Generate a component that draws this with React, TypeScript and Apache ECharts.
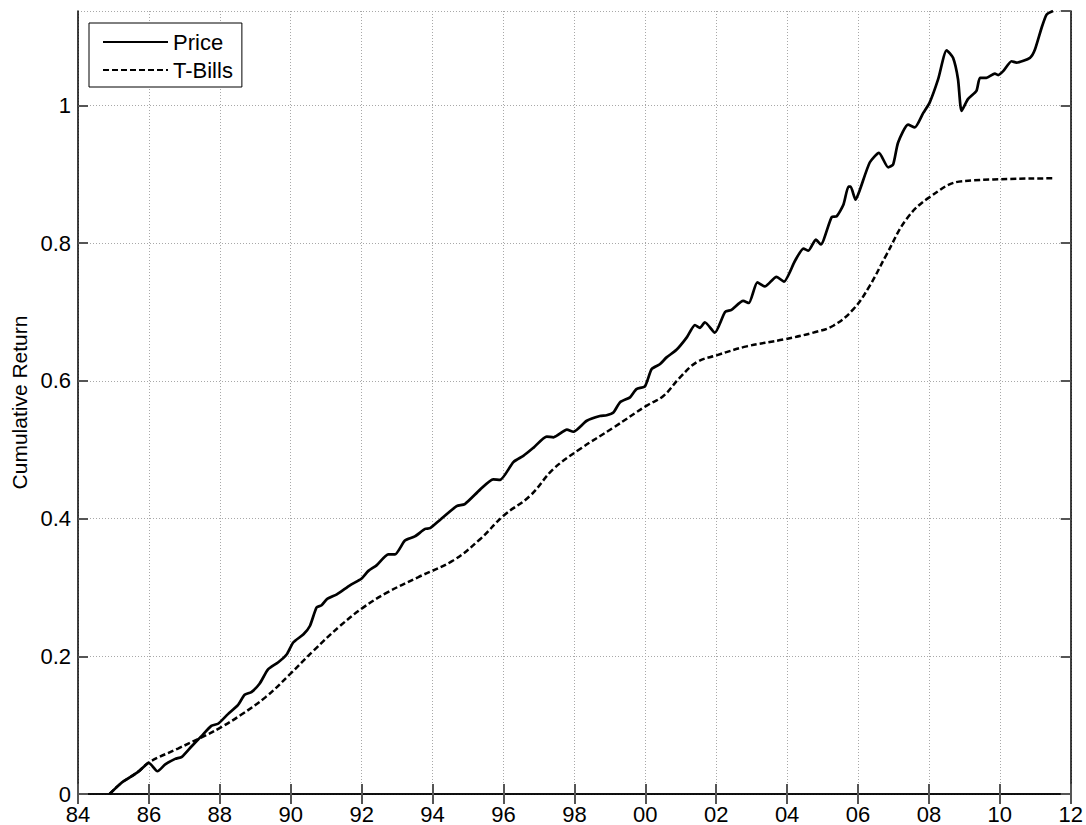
import React, { useEffect, useRef } from "react";
import * as echarts from "echarts";

// Cumulative return paths, x in calendar years
const priceYears = [
  1984.89, 1985.22, 1985.46, 1985.74, 1986.0, 1986.24, 1986.46, 1986.74, 1986.93,
  1987.2, 1987.48, 1987.76, 1987.95, 1988.23, 1988.51, 1988.7, 1988.89, 1989.12,
  1989.36, 1989.64, 1989.89, 1990.07, 1990.36, 1990.54, 1990.73, 1990.87, 1991.02,
  1991.3, 1991.67, 1992.0, 1992.19, 1992.42, 1992.75, 1992.94, 1993.22, 1993.5,
  1993.79, 1993.93, 1994.21, 1994.68, 1994.91, 1995.34, 1995.71, 1995.9, 1996.28,
  1996.56, 1996.85, 1997.22, 1997.41, 1997.79, 1997.97, 1998.35, 1998.72, 1998.91,
  1999.1, 1999.29, 1999.57, 1999.75, 1999.99, 2000.18, 2000.41, 2000.6, 2000.88,
  2001.17, 2001.4, 2001.54, 2001.68, 2001.96, 2002.25, 2002.43, 2002.76, 2002.92,
  2003.16, 2003.37, 2003.7, 2003.91, 2004.22, 2004.46, 2004.6, 2004.81, 2004.95,
  2005.26, 2005.4, 2005.59, 2005.73, 2005.79, 2005.93, 2006.05, 2006.33, 2006.59,
  2006.85, 2006.99, 2007.13, 2007.41, 2007.6, 2007.84, 2008.02, 2008.26, 2008.5,
  2008.68, 2008.82, 2008.92, 2009.1, 2009.34, 2009.44, 2009.62, 2009.86, 2009.95,
  2010.1, 2010.33, 2010.47, 2010.85, 2010.99, 2011.18, 2011.32, 2011.5,
];
const priceValues = [
  0, 0.016, 0.024, 0.034, 0.045, 0.033, 0.043, 0.051, 0.054,
  0.069, 0.084, 0.099, 0.102, 0.116, 0.129, 0.144, 0.148, 0.16,
  0.181, 0.191, 0.203, 0.22, 0.232, 0.244, 0.271, 0.274, 0.283,
  0.29, 0.303, 0.313, 0.324, 0.332, 0.348, 0.348, 0.368, 0.374,
  0.385, 0.386, 0.398, 0.418, 0.421, 0.442, 0.457, 0.456, 0.482,
  0.491, 0.503, 0.519, 0.518, 0.529, 0.526, 0.542, 0.549, 0.55,
  0.554, 0.569, 0.576, 0.588, 0.592, 0.617, 0.624, 0.634, 0.645,
  0.663, 0.681, 0.677, 0.685, 0.67, 0.7, 0.703, 0.716, 0.713,
  0.743, 0.737, 0.751, 0.744, 0.774, 0.792, 0.789, 0.805, 0.798,
  0.838, 0.839, 0.856, 0.882, 0.882, 0.863, 0.877, 0.917, 0.931,
  0.91, 0.914, 0.946, 0.972, 0.968, 0.989, 1.004, 1.038, 1.08,
  1.069, 1.038, 0.992, 1.009, 1.021, 1.04, 1.04, 1.046, 1.044,
  1.05, 1.064, 1.062, 1.069, 1.081, 1.113, 1.132, 1.137,
];

const billYears = [
  1984.89, 1985.22, 1985.46, 1985.74, 1986.0, 1986.82, 1987.6, 1988.04, 1988.6,
  1989.3, 1989.98, 1990.64, 1991.39, 1992.05, 1992.7, 1993.6, 1994.58, 1995.34,
  1996.0, 1996.75, 1997.41, 1998.16, 1999.1, 2000.04, 2000.51, 2000.98, 2001.45,
  2002.01, 2002.86, 2003.9, 2004.74, 2005.3, 2005.87, 2006.33, 2006.8, 2007.37,
  2008.0, 2008.95, 2011.5,
];
const billValues = [
  0, 0.016, 0.024, 0.034, 0.046, 0.066, 0.085, 0.097, 0.115,
  0.141, 0.174, 0.208, 0.244, 0.271, 0.292, 0.315, 0.339, 0.37,
  0.404, 0.433, 0.472, 0.501, 0.532, 0.564, 0.578, 0.605, 0.627,
  0.637, 0.65, 0.66, 0.67, 0.68, 0.704, 0.738, 0.783, 0.835,
  0.866, 0.89, 0.894,
];

const seriesNames = ["Price", "T-Bills"];
const yAxisTitle = "Cumulative Return";

const xMin = 1984;
const xMax = 2012;
const xStep = 2;
const yMin = 0;
const yMax = 1.137;
const yStep = 0.2;

const FONT = "'Liberation Sans', Arial, Helvetica, sans-serif";

// Boxed frame: black axis lines with inward grey ticks on all four sides
const frameAxis = {
  axisLine: { show: true, lineStyle: { color: "#000", width: 1.5 } },
  axisTick: { show: true, inside: true, length: 10, lineStyle: { color: "#555", width: 2 } },
};

const gridLine = { show: true, lineStyle: { color: "#a8a8a8", type: [1, 2], width: 1 } };

export default function App() {
  const ref = useRef<HTMLDivElement>(null);

  useEffect(() => {
    if (!ref.current) return;
    const chart = echarts.init(ref.current, undefined, { renderer: "svg" });

    const price = priceYears.map((x, i) => [x, priceValues[i]]);
    const bills = billYears.map((x, i) => [x, billValues[i]]);

    const xLabel = (v: number) => String(Math.round(v) % 100).padStart(2, "0");
    const yLabel = (v: number) => String(Math.round(v * 10) / 10);

    chart.setOption({
      animation: false,
      backgroundColor: "#fff",
      textStyle: { fontFamily: FONT },
      grid: { left: 78, right: 15, top: 11, bottom: 30, containLabel: false },
      legend: {
        orient: "vertical",
        left: 89,
        top: 23,
        padding: [8, 9, 6, 13],
        itemWidth: 65,
        itemHeight: 14,
        itemGap: 6,
        borderColor: "#000",
        borderWidth: 1,
        backgroundColor: "#fff",
        itemStyle: { opacity: 0 },
        textStyle: { fontFamily: FONT, fontSize: 22, color: "#000" },
        data: seriesNames,
      },
      xAxis: [
        {
          type: "value",
          position: "bottom",
          min: xMin,
          max: xMax,
          interval: xStep,
          ...frameAxis,
          axisLabel: {
            formatter: xLabel,
            color: "#000",
            fontSize: 22,
            lineHeight: 20,
            fontFamily: FONT,
            margin: 10,
          },
          splitLine: gridLine,
        },
        {
          type: "value",
          position: "top",
          min: xMin,
          max: xMax,
          interval: xStep,
          ...frameAxis,
          axisLabel: { show: false },
          splitLine: { show: false },
        },
      ],
      yAxis: [
        {
          type: "value",
          position: "left",
          min: yMin,
          max: yMax,
          interval: yStep,
          ...frameAxis,
          axisLabel: {
            formatter: yLabel,
            showMaxLabel: false,
            color: "#000",
            fontSize: 22,
            lineHeight: 18,
            fontFamily: FONT,
            margin: 7,
          },
          splitLine: gridLine,
          name: yAxisTitle,
          nameLocation: "middle",
          nameGap: 48,
          nameTextStyle: { fontSize: 21, color: "#000", fontFamily: FONT },
        },
        {
          type: "value",
          position: "right",
          min: yMin,
          max: yMax,
          interval: yStep,
          ...frameAxis,
          axisLabel: { show: false },
          splitLine: { show: false },
        },
      ],
      series: [
        {
          name: seriesNames[0],
          type: "line",
          xAxisIndex: 0,
          yAxisIndex: 0,
          data: price,
          symbol: "none",
          smooth: 0.2,
          lineStyle: { color: "#000", width: 2.7 },
          itemStyle: { color: "#000" },
        },
        {
          name: seriesNames[1],
          type: "line",
          xAxisIndex: 0,
          yAxisIndex: 0,
          data: bills,
          symbol: "none",
          smooth: 0.4,
          lineStyle: { color: "#000", width: 2.5, type: [6, 3] },
          itemStyle: { color: "#000" },
        },
      ],
    });

    return () => chart.dispose();
  }, []);

  return (
    <div
      ref={ref}
      style={{ position: "fixed", left: 0, top: 0, width: 1086, height: 825, background: "#fff" }}
    />
  );
}
